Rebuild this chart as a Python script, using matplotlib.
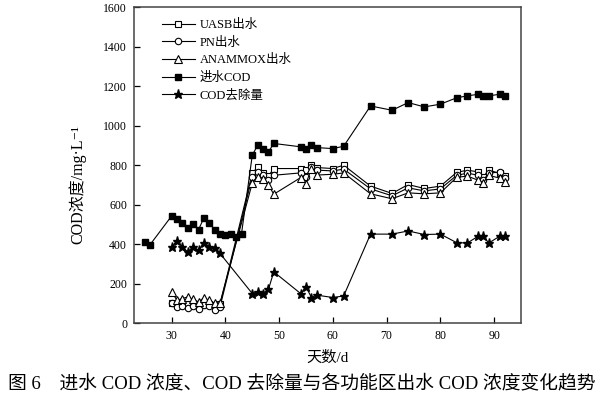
import matplotlib
matplotlib.use("Agg")
import matplotlib.pyplot as plt
from matplotlib.ticker import MultipleLocator

plt.rcParams['font.family'] = ['Liberation Serif', 'Noto Sans CJK SC', 'DejaVu Sans']

# ---- data ----
inflow_days = [25, 26, 30, 31, 32, 33, 34, 35, 36, 37, 38, 39, 40, 41, 42, 43,
               45, 46, 47, 48, 49, 54, 55, 56, 57, 60, 62,
               67, 71, 74, 77, 80, 83, 85, 87, 88, 89, 91, 92]
inflow_cod = [412, 398, 543, 530, 505, 483, 500, 474, 533, 505, 474, 454, 446, 454, 434, 454,
              851, 901, 881, 867, 910, 893, 881, 901, 889, 884, 896,
              1100, 1078, 1117, 1095, 1109, 1141, 1151, 1159, 1151, 1151, 1159, 1151]

eff_days = [30, 31, 32, 33, 34, 35, 36, 37, 38, 39,
            45, 46, 47, 48, 49, 54, 55, 56, 57, 60, 62,
            67, 71, 74, 77, 80, 83, 85, 87, 88, 89, 91, 92]
uasb = [100, 97, 100, 98, 96, 93, 100, 97, 90, 95,
        760, 790, 762, 745, 783, 783, 775, 803, 788, 783, 800,
        694, 657, 702, 682, 694, 763, 775, 766, 741, 776, 758, 745]
pn = [103, 83, 86, 79, 86, 74, 91, 86, 69, 83,
      742, 765, 750, 725, 749, 761, 742, 790, 775, 771, 780,
      680, 645, 685, 670, 680, 748, 760, 749, 725, 760, 765, 735]
anammox = [158, 116, 125, 133, 120, 108, 128, 116, 100, 103,
           710, 741, 732, 700, 653, 737, 707, 783, 750, 754, 761,
           655, 630, 660, 655, 660, 738, 745, 724, 712, 748, 735, 716]
removal = [386, 417, 386, 361, 386, 370, 408, 386, 383, 353,
           150, 160, 150, 171, 260, 150, 184, 130, 142, 130, 138,
           451, 451, 467, 449, 451, 408, 406, 440, 440, 406, 440, 440]

labels = ['UASB出水', 'PN出水', 'ANAMMOX出水', '进水COD', 'COD去除量']
xticks = [30, 40, 50, 60, 70, 80, 90]

fig = plt.figure(figsize=(6.01, 3.99), dpi=100)
ax = fig.add_axes([0.223, 0.190, 0.644, 0.792])

lw = 0.8
ax.plot(eff_days, uasb, '-', color='black', lw=lw, marker='s', ms=4.4,
        mfc='white', mec='black', mew=0.8, label=labels[0])
ax.plot(eff_days, pn, '-', color='black', lw=lw, marker='o', ms=4.6,
        mfc='white', mec='black', mew=0.8, label=labels[1])
ax.plot(eff_days, anammox, '-', color='black', lw=lw, marker='^', ms=5.2,
        mfc='white', mec='black', mew=0.8, label=labels[2])
ax.plot(inflow_days, inflow_cod, '-', color='black', lw=lw, marker='s', ms=4.4,
        mfc='black', mec='black', label=labels[3])
ax.plot(eff_days, removal, '-', color='black', lw=lw, marker='*', ms=6.8,
        mfc='black', mec='black', label=labels[4])

ax.set_xlim(23, 95)
ax.set_ylim(0, 1600)
ax.set_xticks(xticks)
ax.yaxis.set_major_locator(MultipleLocator(200))
ax.tick_params(direction='in', length=4.5, width=0.9, labelsize=8.5, colors='black',
               top=False, right=False, pad=5)
for s in ax.spines.values():
    s.set_linewidth(1.1)
    s.set_color('#444444')

ax.set_xlabel('天数/d', fontsize=11, labelpad=6)
ax.set_ylabel('COD浓度/mg·L⁻¹', fontsize=11.5)
ax.yaxis.set_label_coords(-0.124, 0.44)

leg = ax.legend(loc='upper left', bbox_to_anchor=(0.05, 0.99), frameon=False,
                fontsize=9, handlelength=2.6, handletextpad=0.4,
                labelspacing=0.45, borderpad=0.2)

fig.text(0.502, 0.040, '图 6\u3000进水 COD 浓度、COD 去除量与各功能区出水 COD 浓度变化趋势',
         ha='center', va='center', fontsize=13.5)

fig.savefig('out.png', dpi=100)
